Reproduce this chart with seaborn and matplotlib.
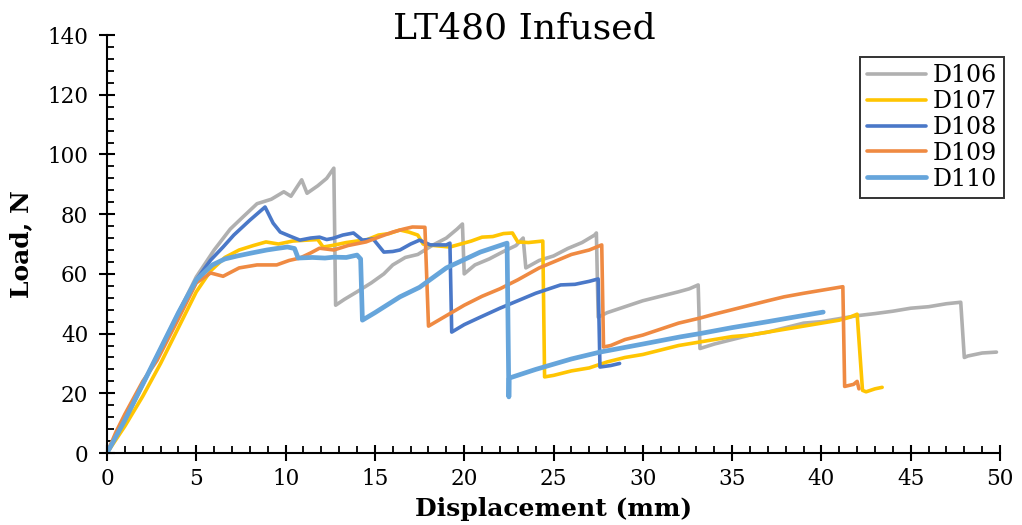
import numpy as np
import pandas as pd
import matplotlib
matplotlib.use("Agg")
import matplotlib.pyplot as plt
import seaborn as sns
from matplotlib.ticker import MultipleLocator

# specimen load-displacement curves
d106 = [(0, 0), (1, 11), (2, 23), (3, 35), (4, 47), (5, 59), (6, 68), (6.9, 75), (7.6, 79),
        (8.4, 83.5), (9.2, 85), (9.9, 87.5), (10.3, 86), (10.9, 91.5), (11.2, 87), (11.8, 89.5),
        (12.3, 92), (12.7, 95.4), (12.8, 49.5), (13.3, 51.5), (14.0, 54), (14.8, 57), (15.5, 60),
        (16.0, 63), (16.7, 65.5), (17.4, 66.5), (18.2, 69.5), (19.0, 72), (19.6, 75), (19.9, 76.7),
        (20.0, 60), (20.6, 63), (21.4, 65), (22.2, 67.5), (22.9, 69.5), (23.3, 72), (23.45, 62),
        (24.2, 64.5), (25.0, 66), (25.8, 68.5), (26.6, 70.5), (27.3, 73), (27.4, 73.7), (27.5, 45.5),
        (28.0, 47), (29.0, 49), (30.0, 51), (31.0, 52.5), (32.0, 54), (32.6, 55), (33.1, 56.3),
        (33.2, 35), (34.0, 36.5), (35.0, 38), (36.0, 39.5), (37.0, 40.5), (38.0, 42), (39.0, 43.5),
        (40.0, 44), (41.0, 45), (42.0, 46), (43.0, 46.7), (44.0, 47.5), (45.0, 48.5), (46.0, 49),
        (47.0, 50), (47.8, 50.5), (48.0, 32), (48.2, 32.5), (49.0, 33.5), (49.8, 33.8)]

d107 = [(0, 0), (1, 9), (2, 19), (3, 30), (4, 42), (5, 54), (5.8, 61), (6.6, 65.5), (7.4, 68),
        (8.2, 69.5), (8.9, 70.7), (9.6, 70), (10.4, 71), (11.2, 71.3), (11.8, 71.5), (12.1, 69),
        (12.6, 69.5), (13.4, 70.5), (14.0, 71), (14.5, 71.3), (15.2, 73), (15.8, 73.5), (16.4, 74.7),
        (16.9, 74), (17.4, 73), (17.7, 70), (18.3, 69.5), (19.2, 69), (19.8, 70), (20.4, 71),
        (21.0, 72.3), (21.6, 72.5), (22.2, 73.5), (22.7, 73.7), (23.0, 70.7), (23.6, 70.5),
        (24.4, 71), (24.5, 25.5), (25.0, 26), (26.0, 27.5), (27.0, 28.5), (28.0, 30.5), (29.0, 32),
        (30.0, 33), (31.0, 34.5), (32.0, 36), (33.0, 37), (34.0, 38), (35.0, 39), (36.0, 39.5),
        (37.0, 40.5), (38.0, 41.5), (39.0, 42.5), (40.0, 43.5), (41.0, 44.5), (41.6, 45.5),
        (42.0, 46.5), (42.3, 21), (42.5, 20.5), (43.0, 21.5), (43.4, 22)]

d108 = [(0, 0), (1, 11), (2, 23), (3, 35), (4, 47), (5, 58), (5.8, 64.6), (6.5, 69), (7.1, 73),
        (8.0, 78), (8.85, 82.4), (9.3, 77), (9.7, 74), (10.3, 72.5), (10.8, 71.3), (11.4, 72),
        (11.9, 72.3), (12.3, 71.5), (12.65, 71.9), (13.2, 73), (13.8, 73.7), (14.3, 71.3),
        (14.9, 71.7), (15.5, 67.3), (16.0, 67.5), (16.4, 68), (17.0, 70), (17.5, 71.3), (18.1, 69.7),
        (19.0, 69.7), (19.2, 70.3), (19.3, 40.5), (20.0, 43), (20.9, 45.5), (22.0, 48.5), (23.0, 51),
        (24.0, 53.5), (25.4, 56.3), (26.2, 56.5), (27.0, 57.5), (27.5, 58.3), (27.6, 28.8),
        (28.2, 29.3), (28.7, 30)]

d109 = [(0, 0), (0.5, 7), (1, 13), (2, 24), (2.8, 31), (4, 45), (5, 57), (5.8, 60.3), (6.5, 59.2),
        (7.4, 62), (8.4, 63), (9.5, 63), (10.2, 64.5), (10.8, 65.3), (11.4, 67), (11.9, 68.6),
        (12.7, 68), (13.5, 69.5), (14.5, 70.7), (15.3, 72.5), (16.0, 74), (16.6, 75), (17.1, 75.7),
        (17.8, 75.6), (18.0, 42.5), (19.0, 46), (20.0, 49.5), (21.0, 52.5), (22.0, 55), (23.0, 58),
        (24.2, 62), (25.0, 64), (26.0, 66.5), (27.0, 68), (27.7, 69.7), (27.8, 35.5), (28.2, 36),
        (29.0, 38), (30.0, 39.5), (31.0, 41.5), (32.0, 43.5), (33.2, 45.2), (34.0, 46.5), (35.0, 48),
        (36.0, 49.5), (37.0, 51), (37.9, 52.3), (39.0, 53.5), (40.0, 54.5), (41.2, 55.7),
        (41.3, 22.3), (41.8, 23), (42.0, 24), (42.1, 21.5)]

d110 = [(0, 0), (1, 11), (2, 23), (3, 35), (4, 47), (5, 58), (5.9, 63), (6.6, 65), (7.3, 66),
        (8.1, 67), (8.95, 68), (9.5, 68.5), (10.1, 69), (10.5, 68.5), (10.7, 65.3), (11.5, 65.5),
        (12.2, 65.3), (12.7, 65.6), (13.4, 65.5), (14.0, 66.3), (14.2, 65), (14.3, 44.5), (15.0, 47),
        (16.4, 52.3), (17.5, 55.5), (19.0, 62), (20.9, 67.3), (22.4, 70.3), (22.5, 18.8),
        (22.52, 25.1), (24.0, 28), (26.0, 31.5), (27.6, 33.8), (30.0, 36.5), (32.1, 38.9),
        (33.2, 40), (35.0, 42), (37.0, 44), (40.1, 47.2)]

names = ["D106", "D107", "D108", "D109", "D110"]
curves = [d106, d107, d108, d109, d110]
colors = ["#B0B0B0", "#FFC502", "#4A78C8", "#EF8A42", "#66A5DB"]
widths = [2.6, 2.6, 2.6, 2.6, 3.4]

sns.set_theme(style="white")
plt.rcParams['font.family'] = ['DejaVu Serif']
plt.rcParams['text.color'] = 'black'
plt.rcParams['axes.labelcolor'] = 'black'
plt.rcParams['xtick.color'] = 'black'
plt.rcParams['ytick.color'] = 'black'

fig = plt.figure(figsize=(10.22, 5.25), dpi=100)
ax = fig.add_axes([0.1047, 0.1371, 0.8738, 0.7962])

for name, pts, c, lw in zip(names, curves, colors, widths):
    df = pd.DataFrame(pts, columns=["disp", "load"])
    sns.lineplot(x="disp", y="load", data=df, sort=False, estimator=None,
                 color=c, lw=lw, label=name, ax=ax)

ax.set_xlim(0, 50)
ax.set_ylim(0, 140)
ax.xaxis.set_major_locator(MultipleLocator(5))
ax.xaxis.set_minor_locator(MultipleLocator(1))
ax.yaxis.set_major_locator(MultipleLocator(20))
ax.yaxis.set_minor_locator(MultipleLocator(4))
ax.tick_params(axis="both", which="major", direction="inout", length=11, width=1.5,
               labelsize=15.5, colors="black", bottom=True, left=True)
ax.tick_params(axis="both", which="minor", direction="in", length=5, width=1.3,
               colors="black", bottom=True, left=True)
ax.tick_params(axis="x", which="major", pad=5)
ax.tick_params(axis="y", which="major", pad=8)
for s in ["top", "right"]:
    ax.spines[s].set_visible(False)
for s in ["left", "bottom"]:
    ax.spines[s].set_color("black")
    ax.spines[s].set_linewidth(1.5)

fig.text(0.513, 0.945, "LT480 Infused", fontsize=26, ha="center", va="center", color="black")
ax.set_xlabel("Displacement (mm)", fontsize=18, fontweight="bold", labelpad=5)
ax.set_ylabel("Load, N", fontsize=18, fontweight="bold", labelpad=10)

leg = ax.legend(loc="upper right", bbox_to_anchor=(1.0045, 0.947), fontsize=17,
                frameon=True, fancybox=False, handlelength=2.5, labelspacing=0.12,
                borderpad=0.3, handletextpad=0.3, borderaxespad=0)
leg.get_frame().set_edgecolor("black")
leg.get_frame().set_linewidth(1.4)

fig.savefig("out.png", dpi=100)
